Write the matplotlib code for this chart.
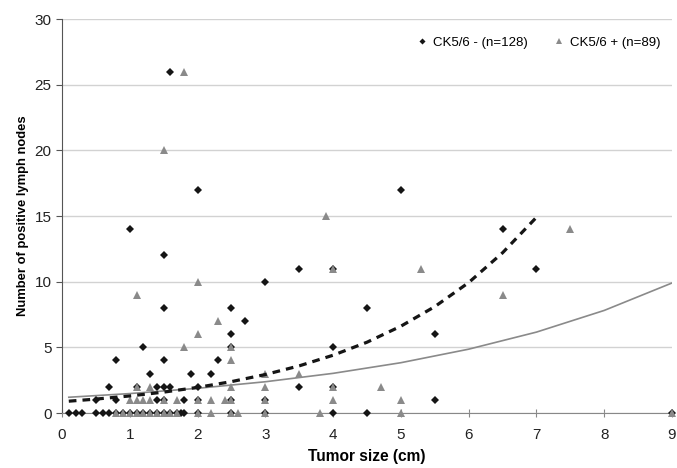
import matplotlib
matplotlib.use("Agg")
import matplotlib.pyplot as plt

plt.rcParams['font.family'] = ['Liberation Sans', 'DejaVu Sans']

# CK5/6 - (diamonds): tumor size (cm), positive lymph nodes
neg_x = [0.1, 0.2, 0.3, 0.5, 0.6, 0.7, 0.8, 0.9, 1.0, 1.1, 1.2, 1.3, 1.4, 1.5, 1.6, 1.7, 1.75, 1.8, 2.0, 2.5, 3.0, 4.0, 4.5, 9.0,
         0.5, 0.8, 1.4, 1.5, 1.8, 2.0, 2.5, 3.0, 5.5,
         0.7, 1.1, 1.4, 1.5, 1.6, 2.0, 3.5, 4.0,
         1.3, 1.9, 2.2,
         0.8, 1.5, 2.3,
         1.2, 2.5, 4.0,
         2.5, 5.5,
         2.7,
         1.5, 2.5, 4.5,
         3.0,
         3.5, 4.0, 7.0,
         1.5,
         1.0, 6.5,
         2.0, 5.0,
         1.6]
neg_y = [0] * 24 + [1] * 9 + [2] * 8 + [3] * 3 + [4] * 3 + [5] * 3 + [6] * 2 + [7] + [8] * 3 + [10] + [11] * 3 + [12] + [14] * 2 + [17] * 2 + [26]

# CK5/6 + (triangles)
pos_x = [0.8, 0.9, 1.0, 1.1, 1.2, 1.3, 1.4, 1.5, 1.6, 1.7, 2.0, 2.2, 2.5, 2.6, 3.0, 3.8, 5.0, 9.0,
         1.0, 1.1, 1.2, 1.3, 1.5, 1.7, 2.0, 2.2, 2.4, 2.5, 3.0, 4.0, 5.0,
         1.1, 1.3, 2.5, 3.0, 4.0, 4.7,
         3.0, 3.5,
         2.5,
         1.8, 2.5,
         2.0,
         2.3,
         1.1, 6.5,
         2.0,
         4.0, 5.3,
         7.5,
         3.9,
         1.5,
         1.8]
pos_y = [0] * 18 + [1] * 13 + [2] * 6 + [3] * 2 + [4] + [5] * 2 + [6] + [7] + [9] * 2 + [10] + [11] * 2 + [14] + [15] + [20] + [26]

# trend lines
trend_neg_x = [0.1, 0.5, 1, 1.5, 2, 2.5, 3, 3.5, 4, 4.5, 5, 5.5, 6, 6.5, 7]
trend_neg_y = [0.90, 1.06, 1.30, 1.59, 1.95, 2.39, 2.93, 3.59, 4.40, 5.39, 6.61, 8.10, 9.93, 12.2, 14.9]
trend_pos_x = [0.1, 1, 2, 3, 4, 5, 6, 7, 8, 9]
trend_pos_y = [1.20, 1.48, 1.88, 2.38, 3.02, 3.83, 4.86, 6.16, 7.81, 9.9]

fig = plt.figure(figsize=(6.77, 4.68), dpi=100)
ax = fig.add_axes([0.0916, 0.1175, 0.9010, 0.8419])

ax.plot(neg_x, neg_y, ls='none', marker='D', ms=4.4, mew=0, color='#151515', label='CK5/6 - (n=128)', zorder=3, clip_on=False)
ax.plot(pos_x, pos_y, ls='none', marker='^', ms=5.2, mew=0, color='#8a8a8a', label='CK5/6 + (n=89)', zorder=4, clip_on=False)
ax.plot(trend_pos_x, trend_pos_y, color='#8a8a8a', lw=1.2, zorder=2)
ax.plot(trend_neg_x, trend_neg_y, color='#151515', lw=2.3, dashes=(2.4, 1.9), zorder=5)

ax.set_xlim(0, 9)
ax.set_ylim(0, 30)
ax.set_xticks(range(0, 10))
ax.set_yticks(range(0, 31, 5))
ax.grid(axis='y', color='#d2d2d2', lw=1)
ax.set_axisbelow(True)
for s in ['top', 'right']:
    ax.spines[s].set_visible(False)
ax.spines['left'].set_color('#555555')
ax.spines['bottom'].set_color('#888888')
ax.tick_params(axis='x', direction='inout', length=6, color='#888888', labelsize=11, labelcolor='#222222', pad=8)
ax.tick_params(axis='y', direction='out', length=4, color='#555555', labelsize=11, labelcolor='#222222')

ax.set_xlabel('Tumor size (cm)', fontsize=11.2, fontweight='bold', labelpad=5)
ax.set_ylabel('Number of positive lymph nodes', fontsize=9.4, fontweight='bold', labelpad=4)

ax.legend(loc='center right', bbox_to_anchor=(1.0, 0.94), ncol=2, frameon=False, fontsize=9.5,
          markerscale=0.7, handlelength=0.8, handletextpad=0.4, columnspacing=2.0)

fig.savefig('out.png', dpi=100)
